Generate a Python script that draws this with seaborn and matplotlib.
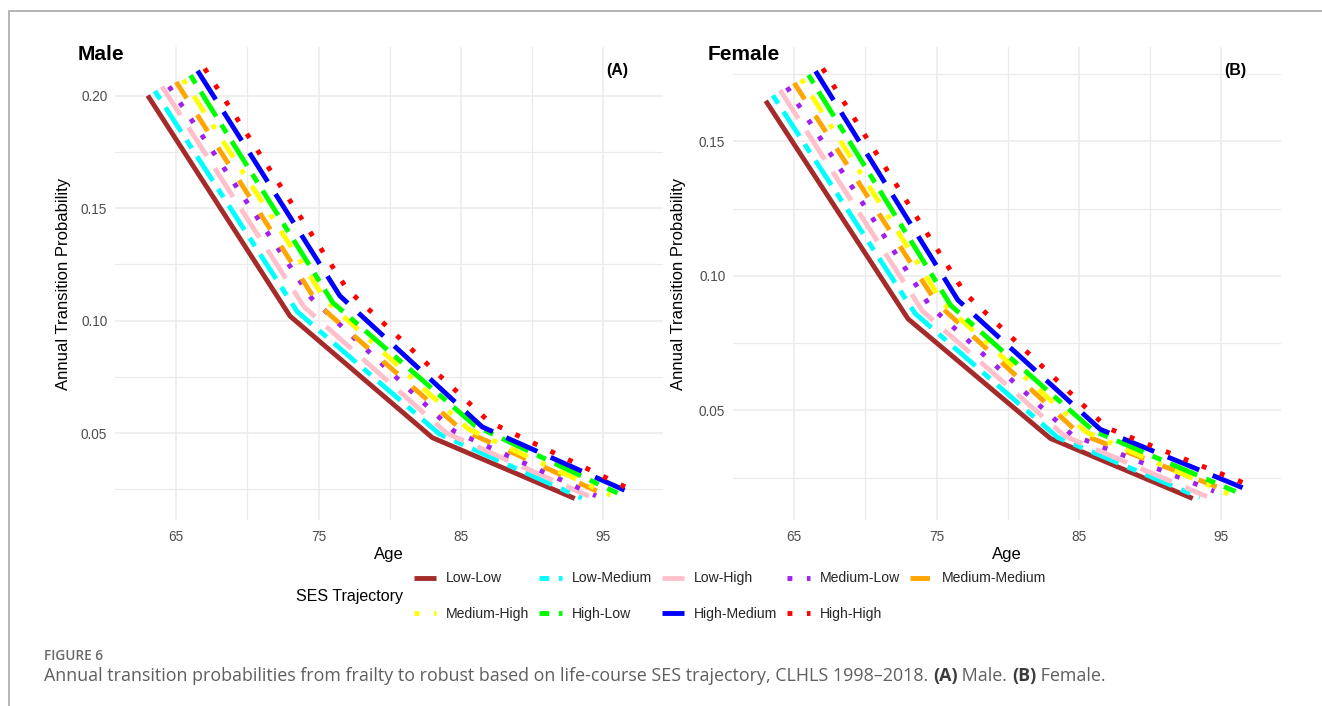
import numpy as np
import pandas as pd
import matplotlib
matplotlib.use("Agg")
import matplotlib.pyplot as plt
import seaborn as sns
from matplotlib.lines import Line2D
from matplotlib.ticker import MultipleLocator, FormatStrFormatter

# ---------------- data ----------------
trajectories = ["Low-Low", "Low-Medium", "Low-High", "Medium-Low", "Medium-Medium",
                "Medium-High", "High-Low", "High-Medium", "High-High"]
ages = [65, 75, 85, 95]

male_low_low = [0.200, 0.102, 0.0480, 0.0210]
male_low_medium = [0.202, 0.104, 0.0496, 0.0212]
male_low_high = [0.204, 0.106, 0.0500, 0.0220]
male_medium_low = [0.204, 0.110, 0.0510, 0.0222]
male_medium_medium = [0.206, 0.107, 0.0518, 0.0230]
male_medium_high = [0.207, 0.109, 0.0520, 0.0225]
male_high_low = [0.209, 0.108, 0.0533, 0.0234]
male_high_medium = [0.211, 0.111, 0.0528, 0.0247]
male_high_high = [0.212, 0.114, 0.0550, 0.0248]

female_low_low = [0.165, 0.0840, 0.0396, 0.0173]
female_low_medium = [0.167, 0.0860, 0.0400, 0.0177]
female_low_high = [0.169, 0.0870, 0.0405, 0.0180]
female_medium_low = [0.170, 0.0890, 0.0410, 0.0200]
female_medium_medium = [0.1716, 0.0900, 0.0415, 0.0210]
female_medium_high = [0.173, 0.0895, 0.0420, 0.0190]
female_high_low = [0.1746, 0.0890, 0.0425, 0.0199]
female_high_medium = [0.176, 0.0910, 0.0430, 0.0213]
female_high_high = [0.177, 0.0935, 0.0435, 0.0222]

male_values = [male_low_low, male_low_medium, male_low_high, male_medium_low,
               male_medium_medium, male_medium_high, male_high_low,
               male_high_medium, male_high_high]
female_values = [female_low_low, female_low_medium, female_low_high, female_medium_low,
                 female_medium_medium, female_medium_high, female_high_low,
                 female_high_medium, female_high_high]

colors = ["#A52A2A", "#00FFFF", "#FFC0CB", "#A020F0", "#FFA500",
          "#FFFF00", "#00FF00", "#0000FF", "#FF0000"]
dash_styles = ["", (2, 2, 6, 2), (7, 3), (1, 3), (4, 4), (1, 3, 4, 3),
               (2, 2, 6, 2), (7, 3), (1, 3)]

DODGE = 0.5  # dodge step between trajectories (position_dodge)


def build(values_list):
    rows = []
    n = len(trajectories)
    for i, (name, vals) in enumerate(zip(trajectories, values_list)):
        off = (i - (n - 1) / 2) * DODGE
        for a, v in zip(ages, vals):
            rows.append({"traj": name, "age": a + off, "prob": v})
    return pd.DataFrame(rows)


# ---------------- style ----------------
sns.set_theme(style="white")
plt.rcParams["font.family"] = ["Liberation Sans", "DejaVu Sans"]

W, H = 1322, 706
fig = plt.figure(figsize=(W / 100, H / 100), dpi=100)

LW = 3.5
palette = dict(zip(trajectories, colors))
dashes = dict(zip(trajectories, dash_styles))


def px(x0, y0, x1, y1):
    return [x0 / W, 1 - y1 / H, (x1 - x0) / W, (y1 - y0) / H]


panels = [
    ("Male", "(A)", male_values, px(115, 47, 663, 520), 78, 7),
    ("Female", "(B)", female_values, px(733, 47, 1281, 520), 708, 9),
]

for title, tag, vals, rect, title_x, ylpad in panels:
    ax = fig.add_axes(rect)
    df = build(vals)
    sns.lineplot(data=df, x="age", y="prob", hue="traj", style="traj",
                 hue_order=trajectories, style_order=trajectories,
                 palette=palette, dashes=dashes, linewidth=LW,
                 legend=False, errorbar=None, ax=ax)
    for ln in ax.get_lines():
        ln.set_dash_capstyle("butt")
        ln.set_solid_capstyle("butt")
    ax.set_xlim(60.7, 99.2)
    lo, hi = df["prob"].min(), df["prob"].max()
    rng = hi - lo
    ax.set_ylim(lo - 0.05 * rng, hi + 0.05 * rng)
    ax.xaxis.set_minor_locator(MultipleLocator(5))
    ax.set_xticks([65, 75, 85, 95])
    ax.yaxis.set_major_locator(MultipleLocator(0.05))
    ax.yaxis.set_minor_locator(MultipleLocator(0.025))
    ax.yaxis.set_major_formatter(FormatStrFormatter("%.2f"))
    ax.grid(which="major", color="#ebebeb", linewidth=1.1)
    ax.grid(which="minor", color="#ebebeb", linewidth=0.9)
    ax.set_axisbelow(True)
    for s in ax.spines.values():
        s.set_visible(False)
    ax.tick_params(axis="both", which="both", length=0, labelsize=9.8,
                   labelcolor="#4d4d4d")
    ax.tick_params(axis="x", pad=7)
    ax.tick_params(axis="y", pad=5.5)
    ax.set_xlabel("Age", fontsize=12, color="black", labelpad=2)
    ax.set_ylabel("Annual Transition Probability", fontsize=12, color="black",
                  labelpad=ylpad)
    ax.text(0.916, 0.951, tag, transform=ax.transAxes, ha="center", va="center",
            fontsize=11.5, fontweight="bold", color="black")
    fig.text(title_x / W, 1 - 54 / H, title, ha="left", va="center",
             fontsize=15, fontweight="bold", color="black")

# ---------------- legend ----------------
handles = []
for c, d in zip(colors, dash_styles):
    h = Line2D([0], [0], color=c, lw=LW, dash_capstyle="butt", solid_capstyle="butt")
    if d:
        h.set_dashes(d)
    handles.append(h)
order = [0, 5, 1, 6, 2, 7, 3, 8, 4]
leg = fig.legend([handles[i] for i in order], [trajectories[i] for i in order],
                 ncol=5, loc="center left", bbox_to_anchor=(414 / W, 1 - 596 / H),
                 frameon=False, fontsize=10.1, handlelength=1.6,
                 handletextpad=0.7, columnspacing=0.7, labelspacing=1.5,
                 borderpad=0, borderaxespad=0)
fig.text(296 / W, 1 - 597 / H, "SES Trajectory", ha="left", va="center",
         fontsize=11.5, color="black")

# ---------------- frame lines ----------------
fig.add_artist(Line2D([9 / W, 1], [1 - 11 / H, 1 - 11 / H], color="#b4b4b4",
                      lw=1.4, transform=fig.transFigure))
fig.add_artist(Line2D([9 / W, 9 / W], [0, 1 - 11 / H], color="#b4b4b4",
                      lw=1.4, transform=fig.transFigure))

# ---------------- caption ----------------
renderer = fig.canvas.get_renderer()
cap_font = ["Open Sans", "DejaVu Sans"]


def text_width(s, size, weight="normal"):
    t1 = fig.text(0, 0, "X" + s + "X", fontsize=size, fontweight=weight, family=cap_font)
    t2 = fig.text(0, 0, "XX", fontsize=size, fontweight=weight, family=cap_font)
    w = t1.get_window_extent(renderer).width - t2.get_window_extent(renderer).width
    t1.remove(); t2.remove()
    return w


runs = [("Annual transition probabilities from frailty to robust based on life-course SES trajectory, CLHLS 1998\u20132018. ", "normal", "#5f5f5f"),
        ("(A)", "bold", "#3c3c3c"),
        (" Male. ", "normal", "#5f5f5f"),
        ("(B)", "bold", "#3c3c3c"),
        (" Female.", "normal", "#5f5f5f")]

base = 10.0
total = sum(text_width(s, base, w) for s, w, c in runs)
size = base * 1061 / total
x = 44
for s, w, c in runs:
    fig.text(x / W, 1 - 676 / H, s, fontsize=size, fontweight=w, color=c,
             family=cap_font, ha="left", va="center")
    x += text_width(s, size, w)

fsz = 10 * 59 / text_width("FIGURE 6", 10, "semibold")
fig.text(44 / W, 1 - 656 / H, "FIGURE 6", fontsize=fsz, fontweight="semibold",
         color="#6a6a6a", family=cap_font, ha="left", va="center")

fig.savefig("out.png", dpi=100)
